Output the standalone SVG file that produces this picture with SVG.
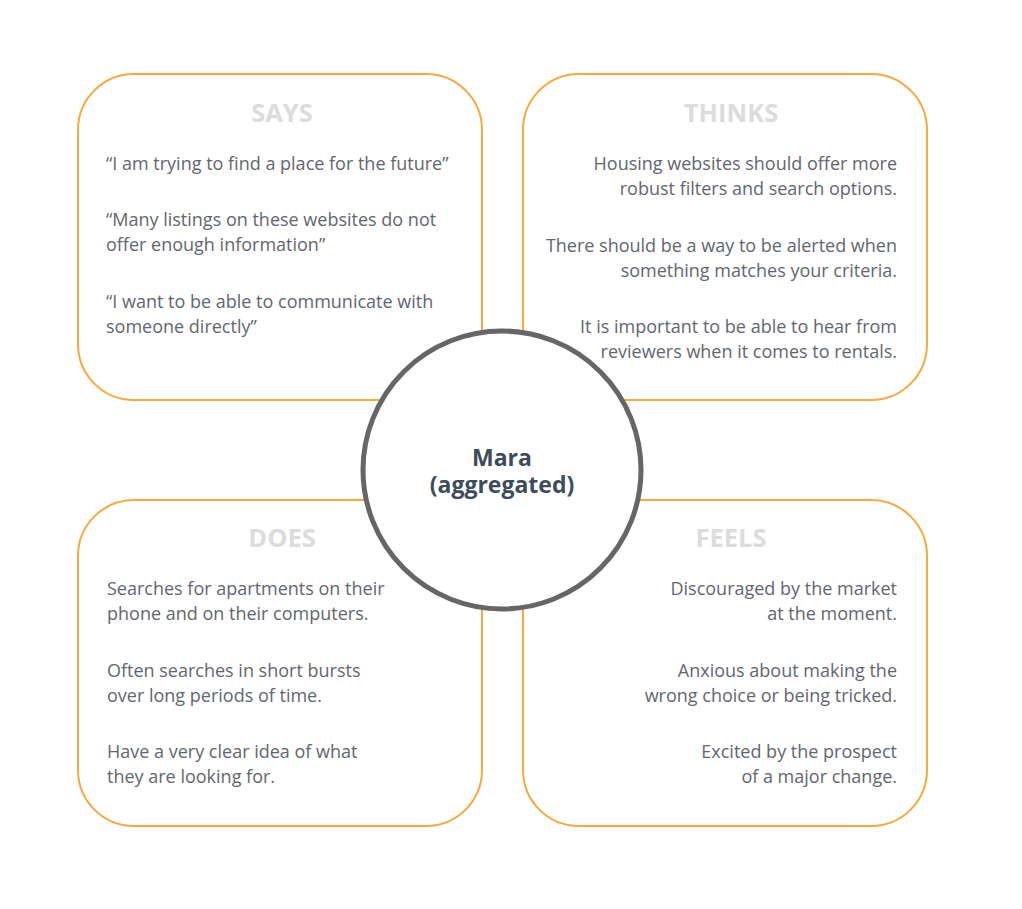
<svg xmlns="http://www.w3.org/2000/svg" width="1022" height="909" viewBox="0 0 1022 909">
<style>
.box{fill:#fff;stroke:#f7a83e;stroke-width:2}
.title{font-family:"Open Sans",sans-serif;font-weight:bold;font-size:25.5px;fill:#dcdcdc;text-anchor:middle}
.body{font-family:"Open Sans",sans-serif;font-size:18px;fill:#62676e}
.r{text-anchor:end}
.center{font-family:"Open Sans",sans-serif;font-weight:bold;font-size:23px;fill:#3d4c58;text-anchor:middle}
</style>
<rect width="1022" height="909" fill="#fff"/>
<g id="says">
<rect class="box" x="78" y="74" width="404" height="326" rx="56"/>
<text class="title" x="282" y="122">SAYS</text>
<text class="body" x="106" y="170">“I am trying to find a place for the future”</text>
<text class="body" x="106" y="226">“Many listings on these websites do not</text>
<text class="body" x="106" y="251">offer enough information”</text>
<text class="body" x="106" y="308">“I want to be able to communicate with</text>
<text class="body" x="106" y="333">someone directly”</text>
</g>
<g id="thinks">
<rect class="box" x="523" y="74" width="404" height="326" rx="56"/>
<text class="title" x="731" y="122">THINKS</text>
<text class="body r" x="897" y="170">Housing websites should offer more</text>
<text class="body r" x="897" y="195">robust filters and search options.</text>
<text class="body r" x="897" y="252">There should be a way to be alerted when</text>
<text class="body r" x="897" y="277">something matches your criteria.</text>
<text class="body r" x="897" y="333">It is important to be able to hear from</text>
<text class="body r" x="897" y="358">reviewers when it comes to rentals.</text>
</g>
<g id="does">
<rect class="box" x="78" y="500" width="404" height="326" rx="56"/>
<text class="title" x="282" y="547">DOES</text>
<text class="body" x="107" y="595">Searches for apartments on their</text>
<text class="body" x="107" y="620">phone and on their computers.</text>
<text class="body" x="107" y="677">Often searches in short bursts</text>
<text class="body" x="107" y="702">over long periods of time.</text>
<text class="body" x="107" y="758">Have a very clear idea of what</text>
<text class="body" x="107" y="783">they are looking for.</text>
</g>
<g id="feels">
<rect class="box" x="523" y="500" width="404" height="326" rx="56"/>
<text class="title" x="731" y="547">FEELS</text>
<text class="body r" x="897" y="595">Discouraged by the market</text>
<text class="body r" x="897" y="620">at the moment.</text>
<text class="body r" x="897" y="677">Anxious about making the</text>
<text class="body r" x="897" y="702">wrong choice or being tricked.</text>
<text class="body r" x="897" y="758">Excited by the prospect</text>
<text class="body r" x="897" y="783">of a major change.</text>
</g>
<g id="connectors"></g>
<g id="mara">
<circle cx="502" cy="470" r="139" fill="#fff" stroke="#666" stroke-width="5"/>
<text class="center" x="502" y="466">Mara</text>
<text class="center" x="502" y="493">(aggregated)</text>
</g>
</svg>
